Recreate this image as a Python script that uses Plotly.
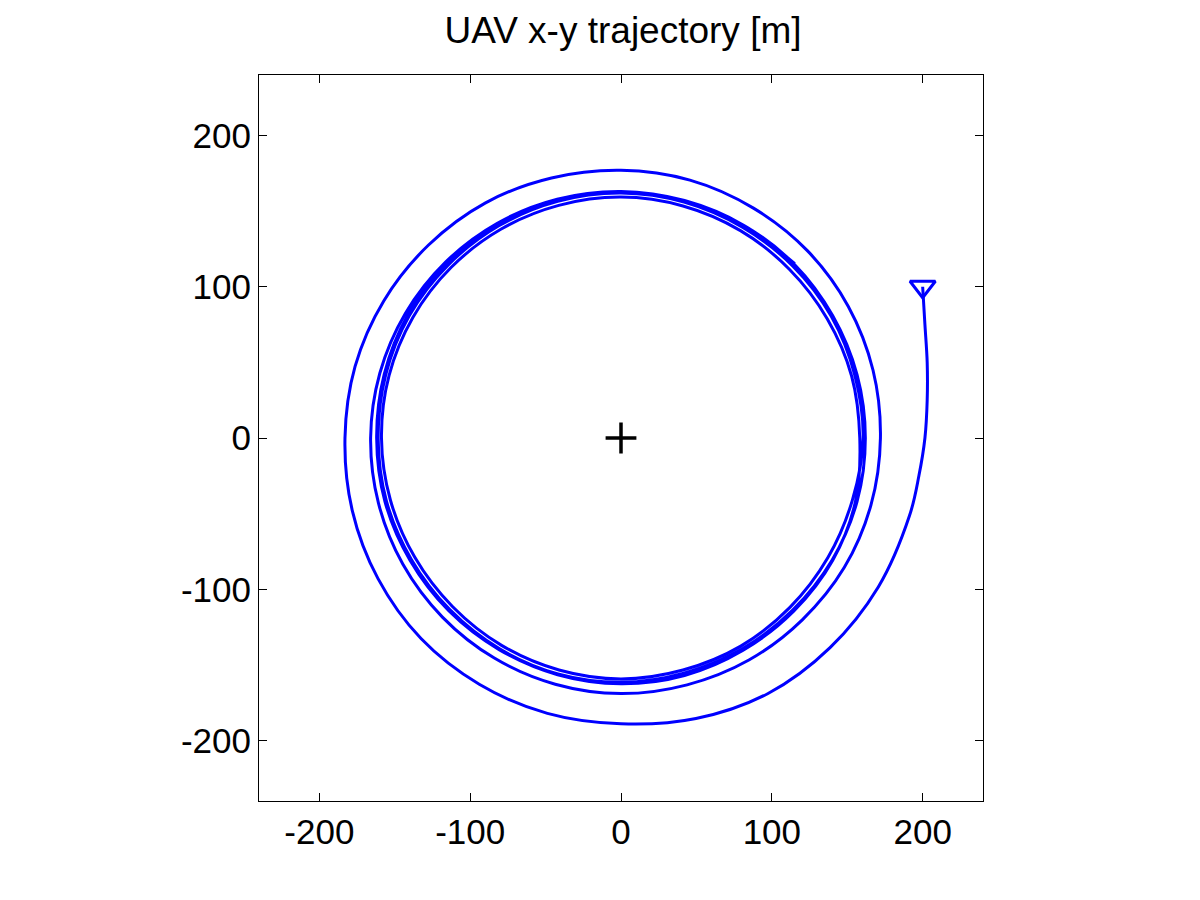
import plotly.graph_objects as go

# UAV x-y path (metres), clockwise spiral in to the loiter circle
traj_x = [
    200, 201.5, 203, 203, 201.5, 197.5,
    191.3, 170.6, 138.6, 97.5, 49.7, 0, -48.8, -94, -132.6, -161.1, -178.2, -183,
    -176.3, -157.2, -127.6, -89.8, -46.1, 0, 45.7, 87.8, 123.7, 150.7, 167.1, 172,
    165.7, 148.1, 120.2, 84.8, 43.8, 0, -43.6, -84, -118.4, -144.6, -160.8, -166,
    -159.9, -142.9, -116.3, -82, -42.3, 0, 42.1, 81.3, 114.9, 140.3, 156.5, 162,
    156.5, 139.9, 113.8, 80.5, 41.7, 0, -41.8, -80.5, -113.5, -139.0, -155.5, -161,
    -156.0, -140.3, -114.5, -81, -42, 0, 41.8, 80.5, 113.8, 139.4, 155.0, 160.5,
    153.4, 137.1, 112.0, 79.4, 41.1, 0, -41.1, -79.2, -111.6, -136.7, -152.9, -158.8,
    -153.8, -138.0, -112.7, -79.7, -41.3, 0, 41.1, 79.2, 111.6, 136.7, 152.9, 158.3,
    155.5, 140.3, 114.5, 81, 42.1, 0, -42, -80.8, -114.2, -139.9, -156.5, -162,
    -157.0, -141.2, -115.2, -81.5, -42.1, 0, 42, 81.3, 115.2,
]
traj_y = [
    100, 75, 50, 25, 0, -25,
    -51.3, -98.5, -138.6, -168.9, -185.5, -189, -182.1, -162.8, -132.6, -93, -47.8, 0,
    47.3, 90.8, 127.6, 155.5, 171.9, 177, 170.5, 152, 123.7, 87, 44.8, 0,
    -44.4, -85.5, -120.2, -146.8, -163.2, -169, -162.8, -145.5, -118.4, -83.5, -43.1, 0,
    42.8, 82.5, 116.3, 142, 157.9, 163, 157, 140.7, 114.9, 81, 41.9, 0,
    -42.0, -80.8, -113.8, -139.4, -155.5, -161.5, -156.0, -139.4, -113.5, -80.3, -41.7, 0,
    41.8, 81, 114.5, 140.3, 156.5, 162, 156.0, 139.4, 113.8, 80.5, 41.6, 0,
    -41.1, -79.2, -112.0, -137.6, -153.4, -159.3, -153.4, -137.1, -111.6, -78.9, -41.0, 0,
    41.3, 79.7, 112.7, 138.0, 153.8, 159.3, 153.4, 137.1, 111.6, 78.9, 41.0, 0,
    -41.7, -81, -114.5, -140.3, -157.0, -162.5, -156.5, -139.9, -114.2, -80.8, -42, 0,
    42.1, 81.5, 115.2, 141.2, 157.0, 162, 156.5, 140.7, 115.2,
]

start_x = [200]
start_y = [100]
center_x = [0]
center_y = [0]

tick_vals = [-200, -100, 0, 100, 200]
tick_text = ["-200", "-100", "0", "100", "200"]
axis_range = [-240, 240]

fig = go.Figure()

fig.add_trace(go.Scatter(
    x=traj_x, y=traj_y, mode="lines",
    line=dict(color="#0000ff", width=3, shape="spline", smoothing=1.0),
))
fig.add_trace(go.Scatter(
    x=start_x, y=start_y, mode="markers",
    marker=dict(symbol="triangle-down-open", size=22, color="#0000ff",
                line=dict(color="#0000ff", width=3)),
))
fig.add_trace(go.Scatter(
    x=center_x, y=center_y, mode="markers",
    marker=dict(symbol="cross-thin", size=22, color="black",
                line=dict(color="black", width=3.5)),
))

axis_style = dict(
    range=axis_range, tickvals=tick_vals, ticktext=tick_text,
    ticks="inside", ticklen=8,
    tickcolor="black", showline=True, linecolor="black", linewidth=1,
    mirror="ticks", showgrid=False, zeroline=False,
    tickfont=dict(family="Liberation Sans", size=35, color="black"),
)

fig.update_xaxes(**axis_style)
fig.update_yaxes(**axis_style)

# page body adds an 8px offset, so margins are shifted to keep the frame in place
fig.update_layout(
    width=1200, height=900,
    margin=dict(l=251, r=225, t=67, b=107),
    paper_bgcolor="white", plot_bgcolor="white",
    showlegend=False,
    title=dict(text="UAV x-y trajectory [m]", x=0.5125, xanchor="center",
               y=0.975, yanchor="middle",
               font=dict(family="Liberation Sans", size=37, color="black")),
)

fig.write_html("out.html")
